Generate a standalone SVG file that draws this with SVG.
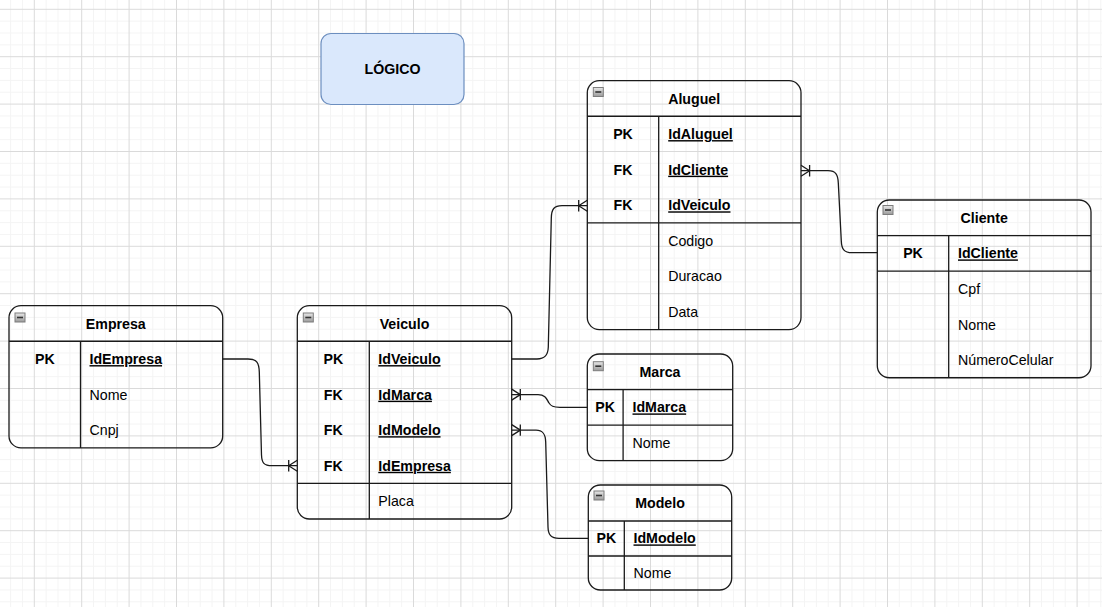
<svg xmlns="http://www.w3.org/2000/svg" xmlns:xlink="http://www.w3.org/1999/xlink" width="1102" height="607" viewBox="0 0 1102 607">
<style>
.tbl{fill:none;stroke:#1a1a1a;stroke-width:1.3}
.ln{stroke:#1a1a1a;stroke-width:1.3;fill:none}
text{font-family:"Liberation Sans",Arial,sans-serif;font-size:14.2px;fill:#000}
.b{font-weight:bold}
.c{text-anchor:middle}
.u{text-decoration:underline}
.edge{fill:none;stroke:#1a1a1a;stroke-width:1.3}
</style>
<defs>
<pattern id="grid" x="33.8" y="8.8" width="47.4" height="47.4" patternUnits="userSpaceOnUse">
<path d="M12.35 0V47.4M24.2 0V47.4M36.05 0V47.4M0 12.35H47.4M0 24.2H47.4M0 36.05H47.4" stroke="#f4f4f4" stroke-width="1"/>
<path d="M0.5 0V47.4M0 0.5H47.4" stroke="#dadada" stroke-width="1"/>
</pattern>
<linearGradient id="mg" x1="0" y1="0" x2="0" y2="1">
<stop offset="0" stop-color="#e8e8e8"/>
<stop offset="1" stop-color="#9a9a9a"/>
</linearGradient>
<g id="minus">
<rect x="0.5" y="0.5" width="10" height="9" fill="url(#mg)" stroke="#7d7d7d" stroke-width="1"/>
<path d="M2.5 5H8.5" stroke="#333" stroke-width="1.6"/>
</g>
</defs>
<rect width="1102" height="607" fill="#ffffff"/>
<rect width="1102" height="607" fill="url(#grid)"/>

<g id="logico">
<rect x="321" y="33.5" width="143" height="71" rx="10" fill="#dae8fc" stroke="#6c8ebf" stroke-width="1.2"/>
<text class="b c" x="392.5" y="74.2">LÓGICO</text>
</g>

<g id="empresa">
<rect class="tbl" x="9" y="305.7" width="213.7" height="142.2" rx="12"/>
<path class="ln" d="M9 341.25H222.7M80.5 341.25V447.9"/>
<use xlink:href="#minus" x="14.5" y="312.5"/>
<text class="b c" x="115.8" y="328.6">Empresa</text>
<text class="b c" x="44.8" y="364.1">PK</text>
<text class="b u" x="89.5" y="364.1">IdEmpresa</text>
<text x="89.5" y="399.7">Nome</text>
<text x="89.5" y="435.2">Cnpj</text>
</g>

<g id="veiculo">
<rect class="tbl" x="297.3" y="305.7" width="214.4" height="213.3" rx="12"/>
<path class="ln" d="M297.3 341.25H511.7M297.3 483.45H511.7M369.3 341.25V519"/>
<use xlink:href="#minus" x="302.8" y="312.5"/>
<text class="b c" x="404.5" y="328.6">Veiculo</text>
<text class="b c" x="333.3" y="364.1">PK</text>
<text class="b u" x="378.3" y="364.1">IdVeiculo</text>
<text class="b c" x="333.3" y="399.7">FK</text>
<text class="b u" x="378.3" y="399.7">IdMarca</text>
<text class="b c" x="333.3" y="435.2">FK</text>
<text class="b u" x="378.3" y="435.2">IdModelo</text>
<text class="b c" x="333.3" y="470.8">FK</text>
<text class="b u" x="378.3" y="470.8">IdEmpresa</text>
<text x="378.3" y="506.3">Placa</text>
</g>

<g id="aluguel">
<rect class="tbl" x="587.3" y="80.7" width="213.7" height="248.9" rx="12"/>
<path class="ln" d="M587.3 116.25H801M587.3 222.9H801M658.7 116.25V329.6"/>
<use xlink:href="#minus" x="592.8" y="87"/>
<text class="b c" x="694.2" y="103.6">Aluguel</text>
<text class="b c" x="623" y="139.1">PK</text>
<text class="b u" x="668.2" y="139.1">IdAluguel</text>
<text class="b c" x="623" y="174.7">FK</text>
<text class="b u" x="668.2" y="174.7">IdCliente</text>
<text class="b c" x="623" y="210.3">FK</text>
<text class="b u" x="668.2" y="210.3">IdVeiculo</text>
<text x="668.2" y="245.8">Codigo</text>
<text x="668.2" y="281.4">Duracao</text>
<text x="668.2" y="316.9">Data</text>
</g>

<g id="cliente">
<rect class="tbl" x="877.3" y="200" width="213.7" height="177.75" rx="12"/>
<path class="ln" d="M877.3 235.55H1091M877.3 271.1H1091M948.7 235.55V377.75"/>
<use xlink:href="#minus" x="882.5" y="205"/>
<text class="b c" x="984.2" y="222.9">Cliente</text>
<text class="b c" x="913" y="258.4">PK</text>
<text class="b u" x="958" y="258.4">IdCliente</text>
<text x="958" y="294">Cpf</text>
<text x="958" y="329.5">Nome</text>
<text x="958" y="365.1">NúmeroCelular</text>
</g>

<g id="marca">
<rect class="tbl" x="587.3" y="354" width="145.4" height="106.65" rx="12"/>
<path class="ln" d="M587.3 389.55H732.7M587.3 425.1H732.7M623.1 389.55V460.65"/>
<use xlink:href="#minus" x="592.8" y="361.2"/>
<text class="b c" x="660" y="376.9">Marca</text>
<text class="b c" x="605.2" y="412.4">PK</text>
<text class="b u" x="632.5" y="412.4">IdMarca</text>
<text x="632.5" y="448">Nome</text>
</g>

<g id="modelo">
<rect class="tbl" x="588.3" y="485" width="143.4" height="105" rx="12"/>
<path class="ln" d="M588.3 521H731.7M588.3 556H731.7M624.3 521V590"/>
<use xlink:href="#minus" x="593.5" y="490.5"/>
<text class="b c" x="660" y="507.9">Modelo</text>
<text class="b c" x="606.3" y="543.4">PK</text>
<text class="b u" x="633.5" y="543.4">IdModelo</text>
<text x="633.5" y="578.1">Nome</text>
</g>

<g id="connectors">
<path class="edge" d="M222.7 359L248 359C257 359 259 363 259.3 372L261.5 455C261.8 463 264 465.7 272 465.7L297.3 465.7"/>
<path class="edge" d="M288.7 460V471.4M288.7 465.7L297.3 460.2M288.7 465.7L297.3 471.2"/>

<path class="edge" d="M511.7 359L537 359C545 359 548 355 548.3 347L551.3 218C551.5 209 554 205.7 562 205.7L587.3 205.7"/>
<path class="edge" d="M578.7 200V211.4M578.7 205.7L587.3 200.2M578.7 205.7L587.3 211.2"/>

<path class="edge" d="M801 170.7L828 170.7C836 170.7 838 175 838.3 183L841.3 241C841.6 249 844 252.7 852 252.7L877.3 252.7"/>
<path class="edge" d="M809.6 165V176.4M809.6 170.7L801 165.2M809.6 170.7L801 176.2"/>

<path class="edge" d="M511.7 394.6L538 394.6C546 394.6 547 400 549 403C551 406 553 407.3 560 407.3L587.3 407.3"/>
<path class="edge" d="M520.3 388.9V400.3M520.3 394.6L511.7 389.1M520.3 394.6L511.7 400.1"/>

<path class="edge" d="M511.7 430.1L536 430.1C543 430.1 545.5 434 545.7 442L548 527C548.2 535 551 538.3 559 538.3L588.3 538.3"/>
<path class="edge" d="M520.3 424.4V435.8M520.3 430.1L511.7 424.6M520.3 430.1L511.7 435.6"/>
</g>
</svg>
